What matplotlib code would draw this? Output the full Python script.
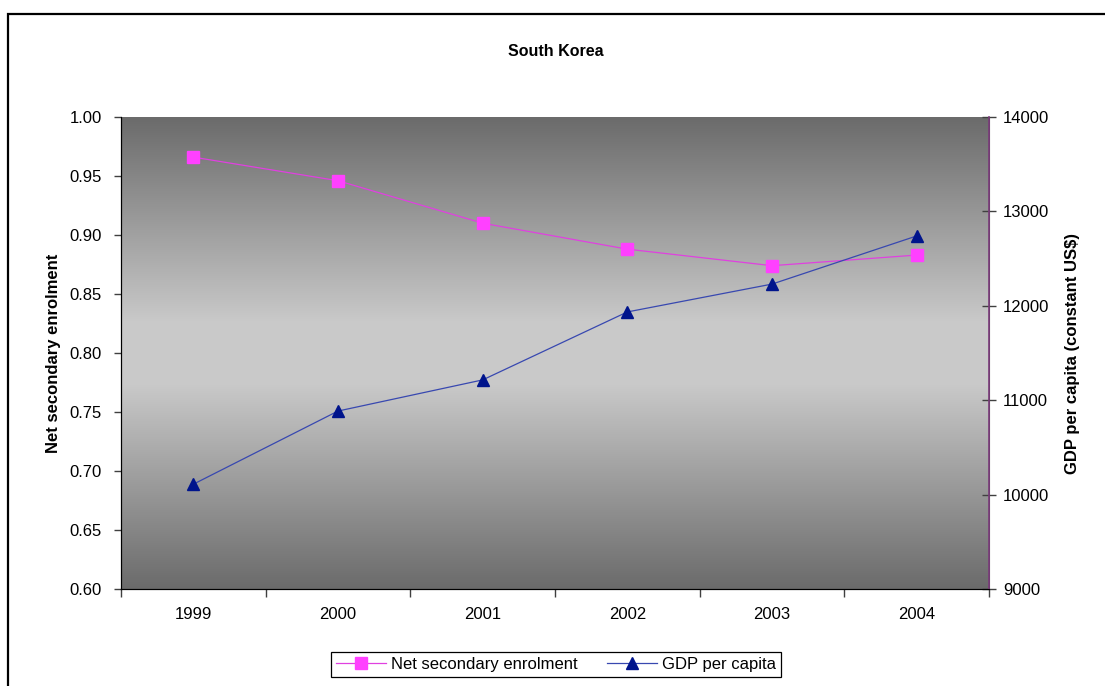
import numpy as np
import matplotlib
matplotlib.use('Agg')
import matplotlib.pyplot as plt
from matplotlib.patches import Rectangle
from matplotlib.ticker import FixedLocator, FormatStrFormatter

plt.rcParams['font.family'] = ['Liberation Sans', 'DejaVu Sans']

years = ['1999', '2000', '2001', '2002', '2003', '2004']
enrolment = [0.966, 0.946, 0.910, 0.888, 0.874, 0.883]
gdp_per_capita = [10110, 10885, 11215, 11935, 12230, 12740]

fig = plt.figure(figsize=(11.05, 6.86), dpi=100)
fig.patch.set_facecolor('white')

# chart frame (right and bottom edges run off the canvas)
fig.patches.append(Rectangle((8 / 1105, -0.05), 1.2, 1 - 14 / 686 + 0.05,
                             transform=fig.transFigure, fill=False,
                             edgecolor='black', linewidth=1.6, zorder=0))

ax = fig.add_axes([121 / 1105, 97 / 686, 868 / 1105, 472 / 686])
x = np.arange(len(years))

# grey band, dark at top and bottom, light across the middle
t = np.linspace(0, 1, 256)
shade = np.clip((1 - np.abs(t - 0.5) * 2) * 1.15, 0, 1)
lo, hi = 0.42, 0.79
grad = (lo + (hi - lo) * shade)[:, None]
ax.imshow(np.dstack([grad, grad, grad]), extent=[0, 1, 0, 1],
          transform=ax.transAxes, aspect='auto', zorder=0, interpolation='bilinear')

l1, = ax.plot(x, enrolment, color='#e040e0', linewidth=0.9, marker='s',
              markersize=8, markerfacecolor='#ff40ff', markeredgecolor='#ff40ff',
              label='Net secondary enrolment', zorder=3)
ax.set_xlim(-0.5, len(years) - 0.5)
ax.set_ylim(0.60, 1.00)
ax.set_yticks(np.arange(0.60, 1.001, 0.05))
ax.yaxis.set_major_formatter(FormatStrFormatter('%.2f'))
ax.set_xticks(x)
ax.set_xticklabels(years)
ax.xaxis.set_minor_locator(FixedLocator(np.arange(-0.5, len(years), 1.0)))
ax.tick_params(axis='x', which='major', length=0, pad=13, labelsize=12)
ax.tick_params(axis='x', which='minor', length=6, width=1, color='#404040')
ax.tick_params(axis='y', direction='out', length=5, width=1, color='#404040',
               labelsize=12, pad=9)
ax.spines['top'].set_visible(False)
ax.spines['left'].set_color('black')
ax.spines['bottom'].set_color('black')
ax.spines['right'].set_color('#505050')
ax.set_ylabel('Net secondary enrolment', fontsize=12, fontweight='bold', labelpad=6)

ax2 = ax.twinx()
l2, = ax2.plot(x, gdp_per_capita, color='#3848b0', linewidth=0.9, marker='^',
               markersize=9, markerfacecolor='#00148c', markeredgecolor='#00148c',
               label='GDP per capita', zorder=3)
ax2.set_ylim(9000, 14000)
ax2.set_yticks(np.arange(9000, 14001, 1000))
ax2.tick_params(axis='y', direction='inout', length=10, width=1, color='#404040',
                labelsize=12, pad=5)
ax2.spines['top'].set_visible(False)
ax2.spines['right'].set_color('#7a3a7a')
ax2.spines['right'].set_linewidth(1.2)
ax2.set_ylabel('GDP per capita (constant US$)', fontsize=12, fontweight='bold',
               labelpad=11)

fig.text(0.503, 1 - 52 / 686, 'South Korea', ha='center', va='center',
         fontsize=11.5, fontweight='bold')

leg = fig.legend([l1, l2], ['Net secondary enrolment', 'GDP per capita'],
                 loc='center', bbox_to_anchor=(0.503, 1 - 664 / 686), ncol=2,
                 fancybox=False, framealpha=1, edgecolor='black', fontsize=12,
                 handlelength=3, handletextpad=0.3, columnspacing=1.8,
                 borderpad=0.3)
leg.get_frame().set_linewidth(0.9)

fig.savefig('out.png', dpi=100)
